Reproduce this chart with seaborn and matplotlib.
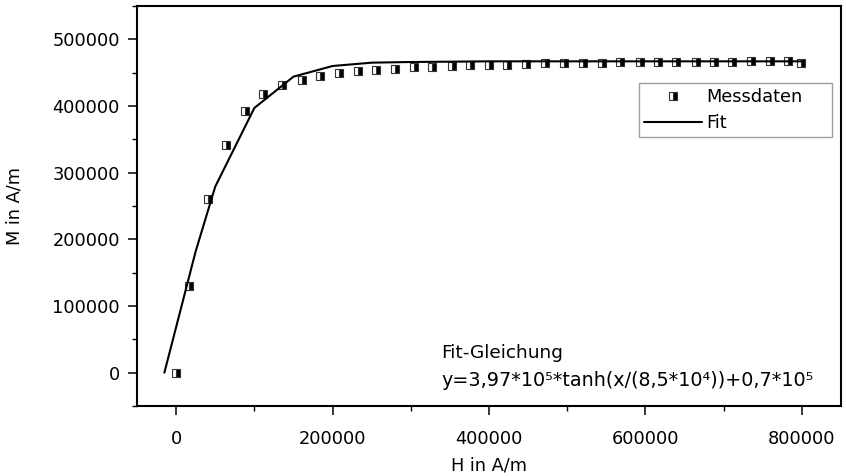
import matplotlib
matplotlib.use("Agg")
import matplotlib.pyplot as plt
import seaborn as sns
from matplotlib.ticker import MultipleLocator

H_mess = [0, 16500, 40500, 64000, 88000, 111000, 136000, 160500, 183500, 208000,
          232000, 256000, 280000, 304500, 327500, 353000, 376000, 400000, 423000,
          447000, 471000, 495500, 520000, 544000, 568000, 593500, 616500, 639500,
          664000, 688000, 711000, 735000, 759000, 782000, 799000]
M_mess = [0, 129600, 260300, 342000, 392500, 418000, 431600, 439100, 445000, 449600,
          452600, 454000, 455500, 458000, 458600, 460000, 461600, 461600, 461600,
          463000, 464600, 464600, 464600, 464600, 466000, 466000, 466000, 466000,
          466000, 466000, 466000, 467000, 467000, 467000, 465000]

# Fit curve (vertices)
H_fit = [-15000, 25000, 50000, 100000, 150000, 200000, 250000, 300000,
         400000, 500000, 600000, 700000, 800000]
M_fit = [0, 182000, 279000, 397000, 444000, 460000, 465000, 466000,
         467000, 467000, 467000, 467000, 467000]

xlabel = "H in A/m"
ylabel = "M in A/m"
eq_title = "Fit-Gleichung"
eq_text = "y=3,97*10⁵*tanh(x/(8,5*10⁴))+0,7*10⁵"

sns.set_theme(style="ticks")
plt.rcParams["font.family"] = ["DejaVu Sans"]
plt.rcParams["text.color"] = "black"
plt.rcParams["axes.labelcolor"] = "black"
FS = 12.8

fig = plt.figure(figsize=(8.46, 4.76), dpi=100)
fig.patch.set_facecolor("white")
ax = fig.add_axes([137 / 846, 1 - 406 / 476, (841 - 137) / 846, 400 / 476])
ax.set_facecolor("white")

sns.lineplot(x=H_mess, y=M_mess, ax=ax, estimator=None, sort=False,
             linestyle="", marker="s", markersize=6.4, fillstyle="right",
             markerfacecolor="black", markerfacecoloralt="white",
             markeredgecolor="#333333", markeredgewidth=0.8, color="black",
             label="Messdaten")
sns.lineplot(x=H_fit, y=M_fit, ax=ax, estimator=None, sort=False,
             color="black", linewidth=1.5, label="Fit")

ax.set_xlim(-50000, 850000)
ax.set_ylim(-50000, 550000)
ax.xaxis.set_major_locator(MultipleLocator(200000))
ax.xaxis.set_minor_locator(MultipleLocator(100000))
ax.yaxis.set_major_locator(MultipleLocator(100000))
ax.yaxis.set_minor_locator(MultipleLocator(50000))
ax.ticklabel_format(style="plain", useOffset=False)

ax.tick_params(which="major", direction="out", length=6.5, width=1.1,
               labelsize=FS, colors="black")
ax.tick_params(axis="x", which="major", pad=10.5)
ax.tick_params(axis="y", which="major", pad=5.8)
ax.tick_params(which="minor", direction="out", length=3.5, width=1.0, colors="black")
ax.tick_params(top=False, right=False, which="both")
for s in ax.spines.values():
    s.set_visible(True)
    s.set_color("black")
    s.set_linewidth(1.5)

ax.set_xlabel(xlabel, fontsize=FS, color="black")
ax.set_ylabel(ylabel, fontsize=FS, color="black")
ax.xaxis.set_label_coords(0.5, (406 - 457) / 400)
ax.yaxis.set_label_coords((24 - 137) / 704, 0.5)

ax.text(441 / 846, 1 - 353 / 476, eq_title, transform=fig.transFigure,
        fontsize=13.3, ha="left", va="center", color="black")
ax.text(441 / 846, 1 - 380 / 476, eq_text, transform=fig.transFigure,
        fontsize=13.8, ha="left", va="center", color="black")

leg = ax.legend(loc="upper left",
                bbox_to_anchor=(639 / 846, 1 - 137 / 476, 193 / 846, 54 / 476),
                bbox_transform=fig.transFigure, borderaxespad=0, mode="expand",
                fontsize=FS, frameon=True, fancybox=False, handlelength=3.3,
                handletextpad=0.2, borderpad=0.27, labelspacing=0.47)
leg.get_frame().set_edgecolor("#888888")
leg.get_frame().set_linewidth(1.0)
for t in leg.get_texts():
    t.set_color("black")

fig.savefig("out.png", dpi=100, facecolor="white")
